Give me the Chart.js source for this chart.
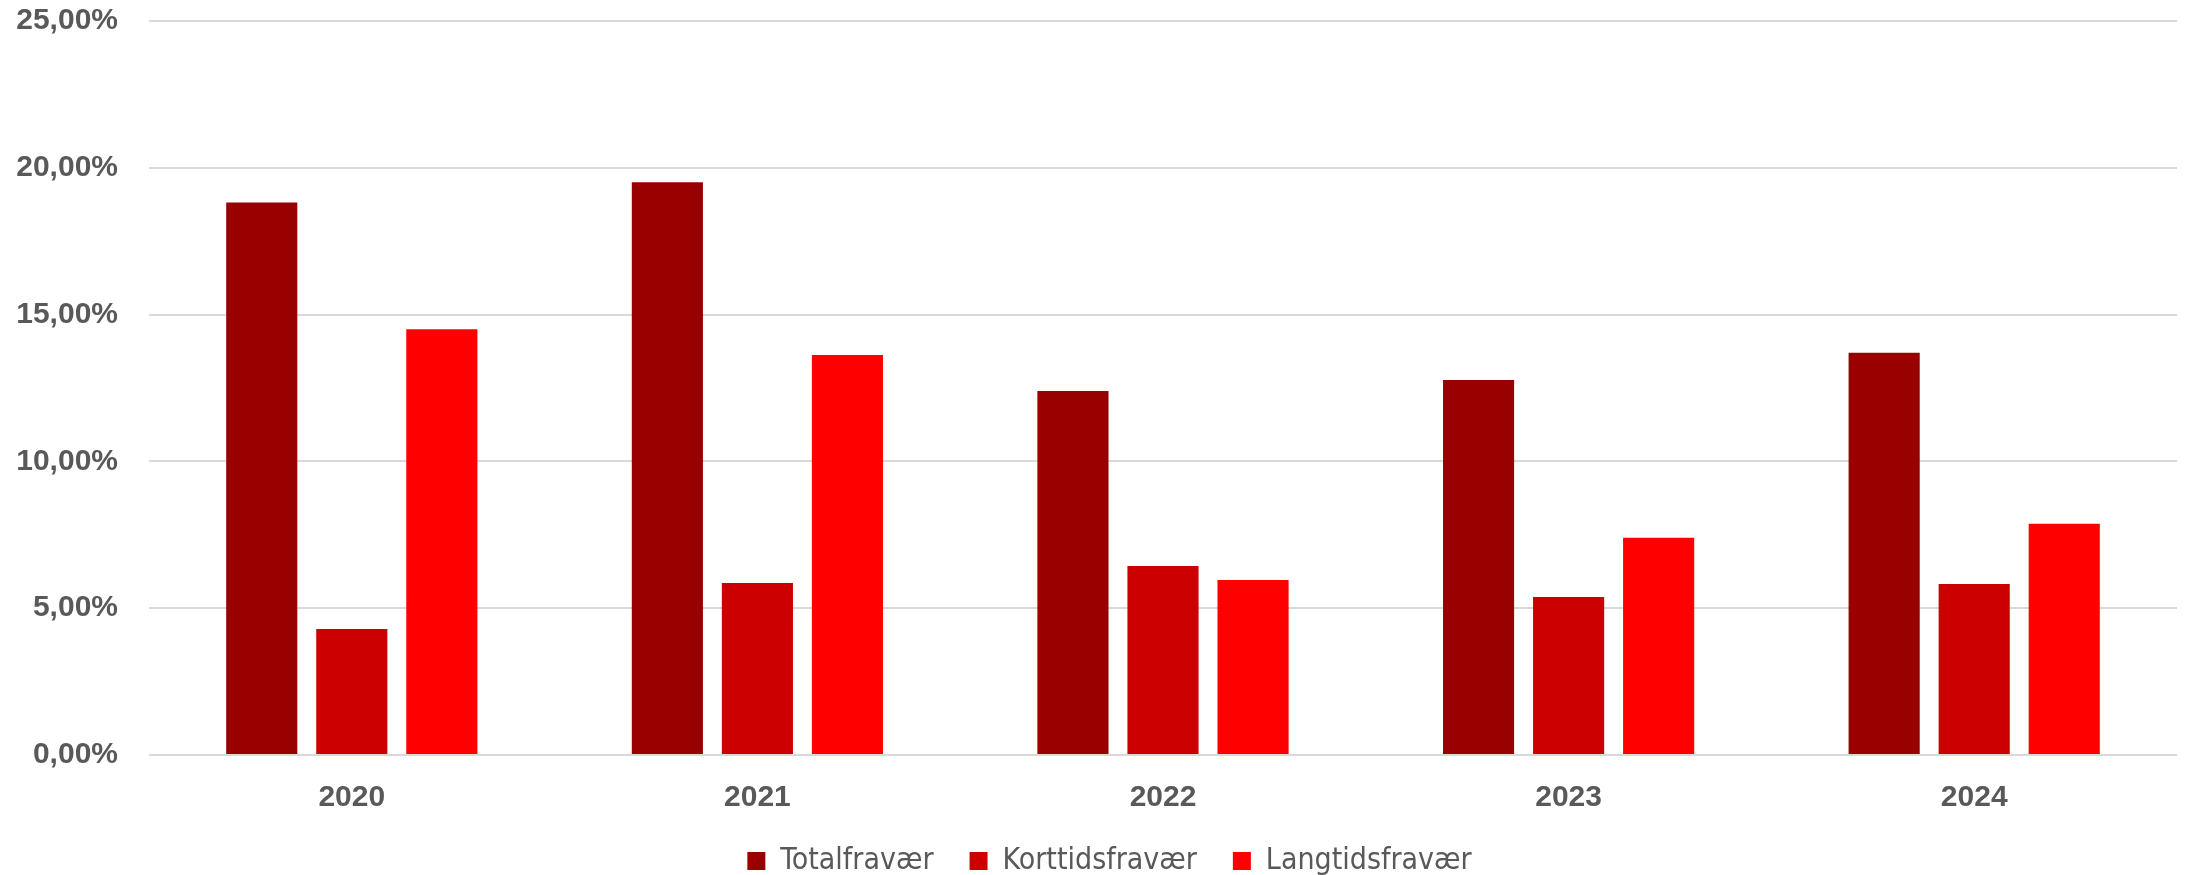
<!DOCTYPE html>
<html>
<head>
<meta charset="utf-8">
<script src="https://cdn.jsdelivr.net/npm/chart.js@4"></script>
<style>
  html, body { margin: 0; padding: 0; background: #fff; }
  #wrap { width: 2188px; height: 875px; position: relative; }
</style>
</head>
<body>
<div id="wrap"><canvas id="chart"></canvas></div>
<script>
// Sickness absence by year (percent values, 0-100)
const years = ["2020", "2021", "2022", "2023", "2024"];
const totalFravaer = [18.82, 19.51, 12.40, 12.77, 13.70];
const korttidsFravaer = [4.29, 5.86, 6.44, 5.38, 5.82];
const langtidsFravaer = [14.50, 13.62, 5.96, 7.40, 7.88];
const seriesNames = ["Totalfravær", "Korttidsfravær", "Langtidsfravær"];
const seriesColors = ["#990000", "#CC0000", "#FF0000"];
const yTicks = [0, 5, 10, 15, 20, 25];

const TEXT = "#595959";
const fmtPct = (v) => v.toFixed(2).replace(".", ",") + "%";

function barSet(i, data) {
  return {
    label: seriesNames[i],
    data,
    backgroundColor: seriesColors[i],
    categoryPercentage: 0.666,
    barPercentage: 0.79,
  };
}

// legend has no afterFit option, so pin its height here, and nudge the
// row a little right (the original centres it on the plot, not the canvas)
const legendTweak = {
  id: "legendTweak",
  afterInit(chart) {
    const lg = chart.legend;
    if (!lg) return;
    const fit = lg.fit;
    lg.fit = function () {
      fit.call(this);
      this.height = 65;
    };
    const draw = lg.draw;
    lg.draw = function (area) {
      const c = this.ctx;
      c.save();
      c.translate(21, 0);
      draw.call(this, area);
      c.restore();
    };
  },
};

new Chart(document.getElementById("chart"), {
  type: "bar",
  data: {
    labels: years,
    datasets: [
      barSet(0, totalFravaer),
      barSet(1, korttidsFravaer),
      barSet(2, langtidsFravaer),
    ],
  },
  plugins: [legendTweak],
  options: {
    responsive: true,
    maintainAspectRatio: false,
    animation: false,
    layout: { padding: { top: 21, right: 11, left: 0, bottom: 0 } },
    plugins: {
      tooltip: { enabled: false },
      legend: {
        position: "bottom",
        labels: {
          color: TEXT,
          font: { family: "'DejaVu Sans Condensed', sans-serif", size: 30 },
          boxWidth: 18,
          boxHeight: 18,
          padding: 36,
        },
      },
    },
    scales: {
      x: {
        grid: { display: false, drawTicks: false },
        border: { display: false },
        ticks: {
          color: TEXT,
          padding: 25,
          font: { family: "'Liberation Sans', Arial, sans-serif", size: 30, weight: "bold" },
        },
        afterFit(s) { s.height = 55; },
      },
      y: {
        min: 0,
        max: 25,
        afterBuildTicks(s) { s.ticks = yTicks.map((v) => ({ value: v })); },
        afterFit(s) {
          s.width = 149;
          s.paddingTop = 0;
          s.paddingBottom = 0;
        },
        grid: { color: "#d9d9d9", lineWidth: 2, drawTicks: false },
        border: { display: false },
        ticks: {
          color: TEXT,
          padding: 31,
          callback: (v) => fmtPct(v),
          font: { family: "'Liberation Sans', Arial, sans-serif", size: 30, weight: "bold" },
        },
      },
    },
  },
});
</script>
</body>
</html>
